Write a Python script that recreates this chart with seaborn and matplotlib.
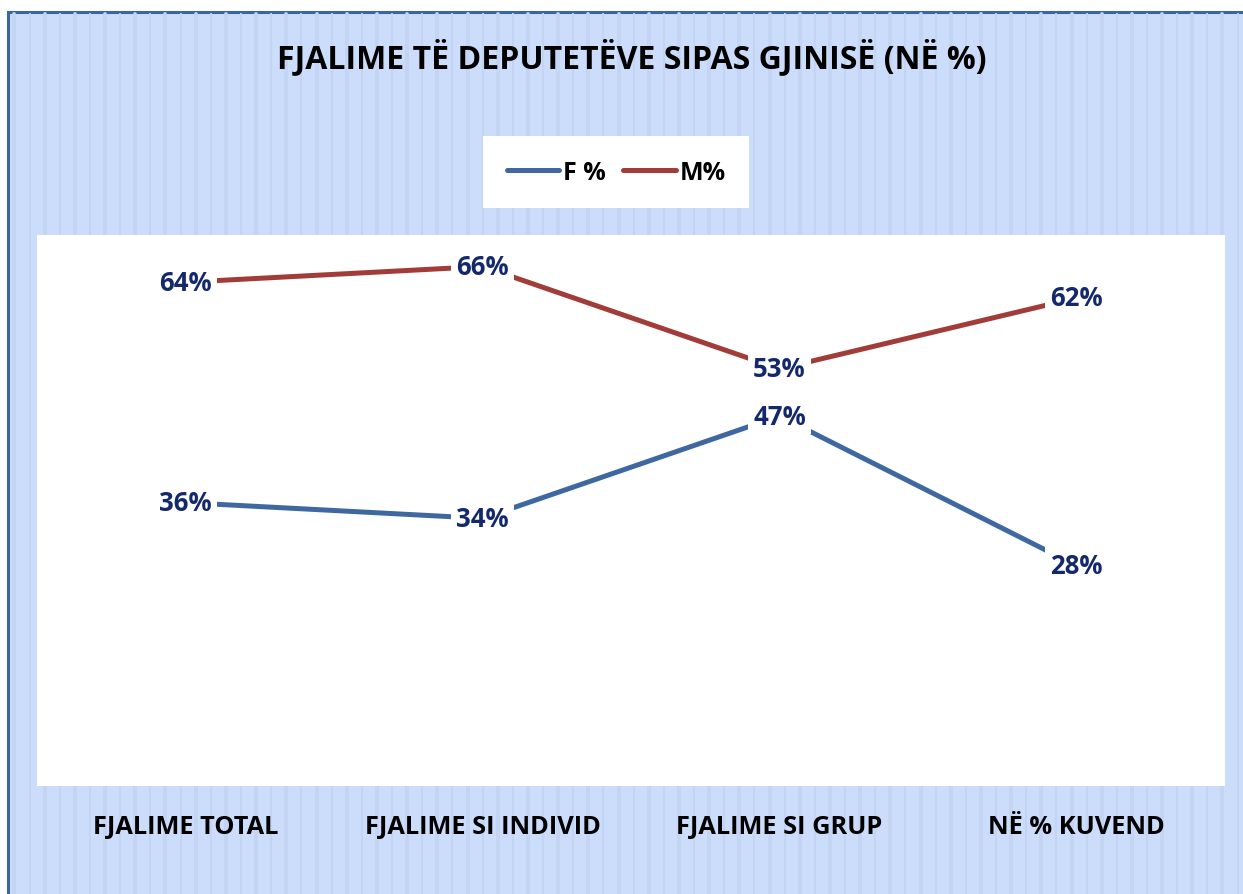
import matplotlib
matplotlib.use("Agg")
import matplotlib.pyplot as plt
import seaborn as sns
import pandas as pd
from matplotlib.patches import Rectangle
from matplotlib.lines import Line2D

categories = ["FJALIME TOTAL", "FJALIME SI INDIVID", "FJALIME SI GRUP", "NË % KUVEND"]
f_values = [0.36, 0.34, 0.47, 0.28]
m_values = [0.64, 0.66, 0.53, 0.62]
series_names = ["F %", "M%"]
title = "FJALIME TË DEPUTETËVE SIPAS GJINISË (NË %)"

sns.set_theme(style="white")
FONT = ["Open Sans", "DejaVu Sans"]
plt.rcParams["font.family"] = FONT
plt.rcParams["text.color"] = "black"

W, H = 1243, 895
fig = plt.figure(figsize=(W / 100, H / 100), dpi=100)
fig.patch.set_facecolor("white")

# chart area background with stripes
bg = fig.add_axes([0, 0, 1, 1], zorder=-10)
bg.set_xlim(0, W)
bg.set_ylim(H, 0)
bg.axis("off")
bg.add_patch(Rectangle((8, 13), W + 20, H + 20, facecolor="#CCDCFB", edgecolor="#3A66A0", linewidth=2.2))
x = 14.5
i = 0
while x < W:
    bg.plot([x, x], [14.5, H], color="#C4D5F4", linewidth=(2.8 if i % 2 == 0 else 1.6), zorder=1)
    x += 15.1
    i += 1

df = pd.DataFrame({
    "cat": list(range(len(categories))) * 2,
    "val": f_values + m_values,
    "series": [series_names[0]] * len(f_values) + [series_names[1]] * len(m_values),
})
palette = {series_names[0]: "#3F68A1", series_names[1]: "#A23C39"}

ax = fig.add_axes([37 / W, 1 - 787 / H, (1225 - 37) / W, (787 - 236) / H])
ax.set_facecolor("white")
sns.lineplot(data=df, x="cat", y="val", hue="series", palette=palette, linewidth=3.6,
             ax=ax, legend=False, solid_capstyle="butt")
ax.set_xlim(-0.5, len(categories) - 0.5)
ax.set_ylim(0, 0.70)
for s in ax.spines.values():
    s.set_visible(False)
ax.set_yticks([])
ax.set_xticks(range(len(categories)))
ax.set_xticklabels(categories, fontsize=18.3, fontweight="bold", color="black", family=FONT)
ax.tick_params(axis="x", length=0, pad=20)
ax.set_xlabel("")
ax.set_ylabel("")

for vals in (f_values, m_values):
    for xi, v in enumerate(vals):
        ax.text(xi, v, f"{round(v * 100)}%", ha="center", va="center", fontsize=18.5,
                fontweight="bold", color="#13296B", family=FONT,
                bbox=dict(facecolor="white", edgecolor="none", pad=3.5), zorder=5)

fig.text(632 / W, 1 - 58 / H, title, ha="center", va="center", fontsize=23,
         fontweight="bold", color="black", family=FONT)

handles = [Line2D([0], [0], color=palette[n], linewidth=3.6, solid_capstyle="round") for n in series_names]
leg = fig.legend(handles, series_names, loc="center", bbox_to_anchor=(616 / W, 1 - 173 / H),
                 ncol=2, frameon=True, fancybox=False, handlelength=2.1,
                 handletextpad=0.15, columnspacing=0.7, borderpad=0.95,
                 prop={"family": FONT, "weight": "bold", "size": 18})
for t in leg.get_texts():
    t.set_color("black")
leg.get_frame().set_facecolor("white")
leg.get_frame().set_edgecolor("none")
leg.get_frame().set_alpha(1)
leg.set_zorder(3)

fig.savefig("out.png", dpi=100)
